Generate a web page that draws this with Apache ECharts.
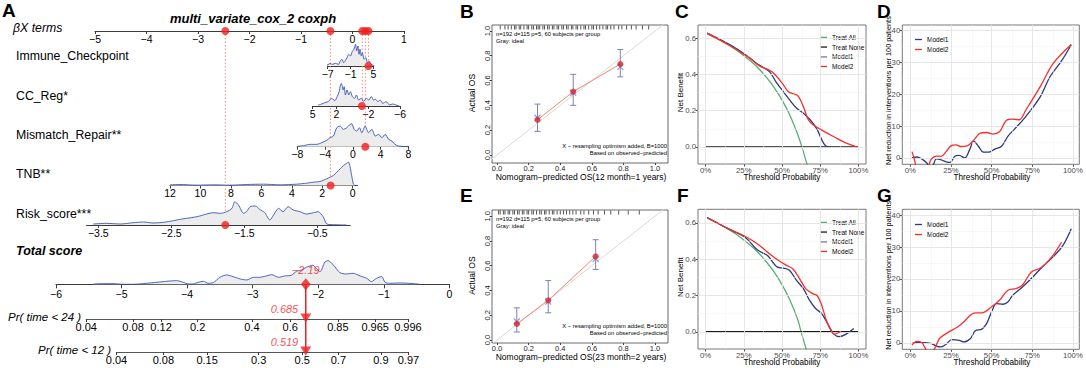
<!DOCTYPE html>
<html>
<head>
<meta charset="utf-8">
<script src="https://cdn.jsdelivr.net/npm/echarts@6/dist/echarts.min.js"></script>
<style>
html, body { margin: 0; padding: 0; background: #fff; }
#main { width: 1086px; height: 368px; }
</style>
</head>
<body>
<div id="main"></div>
<script>
// ---------- A: nomogram ----------
const pointTicks = [-5, -4, -3, -2, -1, 0, 1];
const termNames = ['Immune_Checkpoint', 'CC_Reg*', 'Mismatch_Repair**', 'TNB**', 'Risk_score***'];
const termValues = [3.7, -1.2, 1.8, 1.45, -1.76];
const termPoints = [0.31, 0.19, 0.25, -0.43, -2.47];

const immuneTicks = [-7, -1, 5];
const immuneX = [-7.27, -6.37, -5.66, -5.03, -4.14, -3.69, -3.24, -2.79, -2.34, -1.9, -1.45, -1.0, -0.55, -0.11, 0.34, 0.61, 0.97, 1.24, 1.5, 1.86, 2.13, 2.58, 3.03, 3.47, 3.92, 4.37, 5.27];
const immuneD = [2, 7, 5, 8, 5, 15, 20, 10, 17, 25, 35, 30, 43, 50, 65, 45, 60, 35, 50, 30, 40, 20, 25, 10, 15, 5, 1];

const ccTicks = [5, 2, -2, -6];
const ccX = [4.29, 3.88, 3.46, 3.04, 2.63, 2.21, 1.92, 1.67, 1.5, 1.38, 1.17, 1.04, 0.88, 0.67, 0.46, 0.25, 0, -0.29, -0.5, -0.79, -1.13, -1.42, -1.75, -2.08, -2.38, -2.67, -2.92, -3.21, -3.5, -3.83, -4.25, -4.67, -5.08, -5.5, -5.92];
const ccD = [3, 6, 10, 13, 23, 16, 28, 43, 63, 68, 48, 58, 33, 48, 33, 43, 28, 23, 33, 18, 23, 13, 23, 18, 28, 18, 20, 13, 18, 8, 13, 3, 6, 3, 0];

const mmTicks = [-8, -4, 0, 4, 8];
const mmX = [-7.95, -7.13, -6.17, -5.2, -4.48, -3.76, -3.28, -2.8, -2.31, -1.83, -1.35, -0.87, -0.39, -0.14, 0.19, 0.58, 0.96, 1.3, 1.78, 2.27, 2.75, 3.23, 3.71, 4.19, 4.67, 5.16, 5.64, 6.07, 6.6, 8];
const mmD = [1, 3, 7, 7, 12, 19, 27, 32, 57, 62, 52, 57, 67, 69, 52, 47, 57, 42, 62, 42, 52, 32, 37, 27, 37, 22, 17, 7, 2, 0];

const tnbTicks = [12, 10, 8, 6, 4, 2, 0];
const tnbX = [12, 11.34, 10.25, 9.15, 8.06, 6.96, 5.87, 4.77, 3.68, 3.02, 2.58, 2.15, 1.71, 1.49, 1.27, 1.05, 0.83, 0.61, 0.39, 0.28, 0.18, 0.07, -0.04, -0.15];
const tnbD = [2, 3, 1, 2, 1, 3, 4, 2, 4, 7, 10, 12, 20, 25, 30, 40, 50, 60, 67, 70, 57, 30, 5, 0];

const riskTicks = [-3.5, -2.5, -1.5, -0.5];
const riskX = [-3.57, -3.39, -3.2, -3.02, -2.88, -2.75, -2.61, -2.47, -2.38, -2.29, -2.2, -2.11, -2.02, -1.92, -1.83, -1.74, -1.67, -1.63, -1.58, -1.51, -1.47, -1.42, -1.35, -1.29, -1.22, -1.15, -1.1, -1.03, -0.97, -0.9, -0.83, -0.74, -0.65, -0.55, -0.49, -0.42, -0.37, -0.28, -0.1];
const riskD = [3, 5, 3, 7, 9, 6, 8, 13, 17, 20, 23, 27, 33, 37, 35, 40, 50, 70, 60, 35, 40, 55, 57, 47, 37, 15, 30, 50, 40, 55, 45, 40, 33, 37, 40, 25, 3, 1, 0];

const totalTicks = [-6, -5, -4, -3, -2, -1, 0];
const totalX = [-5.43, -5.28, -5.13, -4.97, -4.82, -4.62, -4.46, -4.31, -4.16, -4.06, -3.98, -3.91, -3.83, -3.75, -3.68, -3.6, -3.5, -3.4, -3.3, -3.19, -3.09, -2.99, -2.89, -2.79, -2.71, -2.61, -2.51, -2.41, -2.33, -2.25, -2.18, -2.08, -2.03, -1.97, -1.9, -1.85, -1.77, -1.67, -1.57, -1.47, -1.36, -1.26, -1.19, -1.11, -1.03, -0.98, -0.91, -0.75, -0.55, -0.45];
const totalD = [1, 2, 2, 0, 0, 3, 6, 9, 11, 6, 1, 1, 6, 9, 3, 5, 21, 28, 23, 16, 13, 21, 21, 25, 29, 21, 25, 27, 39, 43, 51, 57, 47, 38, 66, 71, 58, 35, 31, 33, 25, 18, 8, 18, 23, 6, 3, 4, 2, 0];
const totalScore = -2.19;

const prLabels = ['Pr( time < 24 )', 'Pr( time < 12 )'];
const prValues = [0.685, 0.519];
const pr24Ticks = [0.04, 0.08, 0.12, 0.2, 0.4, 0.6, 0.85, 0.965, 0.996];
const pr12Ticks = [0.04, 0.08, 0.15, 0.3, 0.5, 0.7, 0.9, 0.97];
const prShift = [2.34, 1.878]; // log baseline cumulative hazard

// ---------- B / E: calibration ----------
const calTicks = [0, 0.2, 0.4, 0.6, 0.8, 1.0];
const calPred12 = [0.256, 0.482, 0.78];
const calObs12 = [0.283, 0.51, 0.733];
const calLo12 = [0.19, 0.40, 0.63];
const calHi12 = [0.41, 0.65, 0.85];
const calCorr12 = [0.30, 0.50, 0.71];
const rug12 = [0.02, 0.05, 0.07, 0.09, 0.11, 0.12, 0.14, 0.15, 0.17, 0.19, 0.2, 0.22, 0.23, 0.25, 0.26, 0.27, 0.29, 0.3, 0.32, 0.33, 0.35, 0.36, 0.38, 0.39, 0.41, 0.42, 0.44, 0.45, 0.47, 0.48, 0.5, 0.51, 0.53, 0.55, 0.56, 0.58, 0.6, 0.61, 0.63, 0.65, 0.67, 0.69, 0.7, 0.72, 0.74, 0.77, 0.79, 0.82, 0.85, 0.88, 0.92, 0.96];

const calPred24 = [0.125, 0.324, 0.624];
const calObs24 = [0.13, 0.32, 0.675];
const calLo24 = [0.065, 0.22, 0.57];
const calHi24 = [0.26, 0.48, 0.81];
const calCorr24 = [0.15, 0.31, 0.655];
const rug24 = [0.01, 0.02, 0.04, 0.05, 0.07, 0.08, 0.1, 0.11, 0.13, 0.14, 0.16, 0.17, 0.19, 0.2, 0.22, 0.23, 0.25, 0.27, 0.28, 0.3, 0.31, 0.33, 0.35, 0.36, 0.38, 0.4, 0.42, 0.44, 0.46, 0.48, 0.5, 0.53, 0.55, 0.58, 0.61, 0.64, 0.68, 0.72, 0.77, 0.83, 0.9];

// ---------- C / F: decision curves ----------
const pctTicks = [0, 0.25, 0.5, 0.75, 1];
const pctMinor = [0.125, 0.375, 0.625, 0.875];
const nbTicks = [0, 0.2, 0.4, 0.6];
const nbMinor = [0.1, 0.3, 0.5];
const noneT = [0, 1];
const noneV = [0, 0];

const cAllT = [0.01, 0.1, 0.2, 0.3, 0.35, 0.4, 0.45, 0.5, 0.55, 0.6, 0.63, 0.665];
const cAllV = [0.626, 0.589, 0.537, 0.471, 0.431, 0.383, 0.327, 0.26, 0.178, 0.075, 0.0, -0.1];
const cM1T = [0.01, 0.16, 0.27, 0.33, 0.377, 0.42, 0.465, 0.51, 0.55, 0.596, 0.64, 0.684, 0.728, 0.76, 0.79, 0.82];
const cM1V = [0.63, 0.565, 0.505, 0.465, 0.44, 0.415, 0.354, 0.305, 0.26, 0.214, 0.186, 0.15, 0.1, 0.04, 0.003, 0.0];
const cM2T = [0.01, 0.16, 0.22, 0.29, 0.355, 0.41, 0.443, 0.5, 0.54, 0.575, 0.607, 0.64, 0.673, 0.706, 0.76, 0.84, 0.925, 0.99];
const cM2V = [0.63, 0.56, 0.53, 0.49, 0.447, 0.428, 0.41, 0.354, 0.307, 0.294, 0.28, 0.223, 0.149, 0.121, 0.093, 0.056, 0.019, 0.0];

const fAllT = [0.01, 0.1, 0.2, 0.3, 0.35, 0.4, 0.45, 0.5, 0.55, 0.6, 0.625, 0.66];
const fAllV = [0.626, 0.589, 0.537, 0.471, 0.431, 0.383, 0.327, 0.26, 0.178, 0.075, 0.0, -0.1];
const fM1T = [0.01, 0.15, 0.26, 0.34, 0.405, 0.47, 0.51, 0.55, 0.595, 0.64, 0.68, 0.72, 0.76, 0.81, 0.84, 0.875, 0.92, 0.97];
const fM1V = [0.63, 0.567, 0.52, 0.45, 0.42, 0.356, 0.351, 0.338, 0.283, 0.238, 0.174, 0.128, 0.1, 0.027, -0.013, -0.027, -0.013, 0.018];
const fM2T = [0.01, 0.15, 0.26, 0.34, 0.405, 0.47, 0.53, 0.57, 0.61, 0.655, 0.7, 0.73, 0.76, 0.79, 0.825, 0.846, 0.88];
const fM2V = [0.63, 0.567, 0.525, 0.484, 0.439, 0.397, 0.366, 0.347, 0.3, 0.238, 0.21, 0.2, 0.146, 0.064, 0.0, -0.013, 0.0];

// ---------- D / G: net reduction ----------
const nrTicks = [0, 10, 20, 30, 40];
const nrMinor = [5, 15, 25, 35];
const dM1T = [0.01, 0.04, 0.07, 0.1, 0.12, 0.14, 0.16, 0.19, 0.22, 0.245, 0.275, 0.3, 0.335, 0.365, 0.39, 0.42, 0.45, 0.48, 0.52, 0.56, 0.6, 0.64, 0.71, 0.8, 0.86, 0.93, 0.99];
const dM1V = [0.0, 0.3, -0.3, -1.5, -2.8, -2.2, -0.3, -0.6, -1.2, -1.4, 0.6, 0.8, 0.0, 2.6, 5.3, 3.6, 1.8, 1.8, 2.8, 3.6, 6.8, 9.0, 13.0, 19.3, 25.6, 30.5, 35.6];
const dM2T = [0.01, 0.025, 0.04, 0.08, 0.11, 0.13, 0.16, 0.19, 0.22, 0.25, 0.28, 0.31, 0.35, 0.39, 0.43, 0.47, 0.51, 0.55, 0.59, 0.63, 0.67, 0.71, 0.8, 0.88, 0.99];
const dM2V = [2.0, -0.5, -3, -4, -2.5, -0.3, 0.6, 0.5, 2.0, 3.8, 4.1, 3.6, 3.8, 5.6, 7.8, 8.0, 7.5, 8.3, 11.8, 12.2, 12.0, 15.0, 22.5, 29.8, 35.7];
const gM1T = [0.01, 0.03, 0.08, 0.13, 0.16, 0.19, 0.22, 0.255, 0.3, 0.33, 0.37, 0.4, 0.44, 0.47, 0.5, 0.53, 0.57, 0.6, 0.63, 0.69, 0.755, 0.816, 0.878, 0.94, 0.99];
const gM1V = [-0.2, 0.1, 0.1, -0.2, -1.0, -1.25, -0.4, 1.0, 0.8, 0.3, 1.4, 3.8, 4.3, 6.1, 9.7, 12.3, 12.1, 12.8, 14.9, 17.5, 20.7, 24.0, 26.9, 30.6, 35.7];
const gM2T = [0.01, 0.04, 0.07, 0.09, 0.11, 0.14, 0.155, 0.18, 0.22, 0.29, 0.33, 0.37, 0.4, 0.44, 0.5, 0.55, 0.6, 0.65, 0.69, 0.745, 0.806, 0.87, 0.93];
const gM2V = [-0.7, 0.5, 0.1, -1.5, -3, -2.5, -1.2, 1.4, 2.9, 5.0, 6.6, 8.7, 9.4, 9.4, 11.3, 13.4, 16.5, 17.0, 18.1, 22.2, 23.6, 26.9, 31.5];

// ---------- styles ----------
const FONT = '"Liberation Sans", Arial, sans-serif';
const RED = '#f01e1e';
const DENS_LINE = '#3a55b4';
const DENS_FILL = '#ececec';
const NAVY = '#2d3a7c';
const M2RED = '#f5312a';
const GREEN = '#5aad74';

const zip = (a, b) => a.map((v, i) => [v, b[i]]);
const minus = v => (v < 0 ? '\u2212' + Math.abs(v) : String(v));
const prScore = (p, c) => Math.log(-Math.log(1 - p)) - c;

const grids = [], xAxes = [], yAxes = [], series = [], graphics = [];

function addGrid(box, xa, ya) {
    const i = grids.length;
    grids.push(Object.assign({ show: false }, box));
    xAxes.push(Object.assign({ gridIndex: i, type: 'value', splitLine: { show: false } }, xa));
    yAxes.push(Object.assign({ gridIndex: i, type: 'value', splitLine: { show: false } }, ya));
    return i;
}
const hiddenX = (min, max) => ({ min, max, show: false });
const hiddenY = (min, max, inverse) => ({ min, max, inverse: !!inverse, show: false });

function txt(x, y, s, o = {}) {
    return {
        type: 'text', x, y, rotation: o.rot || 0, z: 100, silent: true,
        style: {
            text: s, fontFamily: FONT, fontSize: o.size || 10,
            fontStyle: o.italic ? 'italic' : 'normal', fontWeight: o.bold ? 'bold' : 'normal',
            fill: o.color || '#000', align: o.align || 'left', verticalAlign: 'middle'
        }
    };
}

function nomoX(min, max, ticks, o = {}) {
    return {
        min, max, inverse: !!o.inverse, position: 'bottom',
        axisLine: { show: true, onZero: false, lineStyle: { color: '#3a3a3a', width: 1.2 } },
        axisTick: { show: true, customValues: ticks, length: 3, lineStyle: { color: '#3a3a3a' } },
        axisLabel: {
            customValues: ticks, fontSize: o.size || 10.5, fontFamily: FONT, color: '#000',
            hideOverlap: false, showMinLabel: true, showMaxLabel: true,
            margin: o.margin == null ? 2 : o.margin, formatter: o.fmt || minus
        }
    };
}

// top points axis
const pointsLeft = 95, pointsRight = 404, pointsY = 31;
const gPts = addGrid({ left: pointsLeft, width: pointsRight - pointsLeft, top: pointsY - 10, height: 10 },
    nomoX(-5, 1, pointTicks), hiddenY(0, 1));
series.push({
    type: 'scatter', name: 'pts', xAxisIndex: gPts, yAxisIndex: gPts, z: 6,
    symbolSize: 8, itemStyle: { color: RED }, clip: false,
    data: termPoints.map(p => [p, 0])
});

// term rows
const rowLayout = [
    { x: immuneX, d: immuneD, ticks: immuneTicks, axisY: 66, peak: 21.7, min: -7, max: 5, left: 327.7, right: 373.3, labelY: 56 },
    { x: ccX, d: ccD, ticks: ccTicks, axisY: 106, peak: 22.7, min: -6, max: 5, left: 312.7, right: 400, inverse: true, labelY: 96 },
    { x: mmX, d: mmD, ticks: mmTicks, axisY: 146.7, peak: 23, min: -8, max: 8, left: 297.3, right: 408.3, labelY: 135 },
    { x: tnbX, d: tnbD, ticks: tnbTicks, axisY: 185.5, peak: 23.3, min: -0.3, max: 12, left: 170, right: 357.3, inverse: true, labelY: 174 },
    { x: riskX, d: riskD, ticks: riskTicks, axisY: 225, peak: 23.3, min: -3.66, max: -0.05, left: 86.6, right: 350.2, labelY: 214 }
];

// dotted connectors from the points axis down to each term
const gLink = addGrid({ left: pointsLeft, width: pointsRight - pointsLeft, top: 0, height: 368 },
    hiddenX(-5, 1), hiddenY(0, 368, true));
termPoints.forEach((p, i) => {
    series.push({
        type: 'line', name: 'link' + i, xAxisIndex: gLink, yAxisIndex: gLink, z: 1,
        symbol: 'none', silent: true,
        lineStyle: { color: '#f58a7c', width: 1, type: [1.5, 2] },
        data: [[p, pointsY], [p, rowLayout[i].axisY]]
    });
});

function densityRow(r, name) {
    const g = addGrid({ left: r.left, width: r.right - r.left, top: r.axisY - r.peak, height: r.peak },
        nomoX(r.min, r.max, r.ticks, { inverse: r.inverse }), hiddenY(0, Math.max(...r.d)));
    series.push({
        type: 'line', name: name, xAxisIndex: g, yAxisIndex: g, z: 2, clip: false,
        symbol: 'none', smooth: 0.25,
        lineStyle: { color: DENS_LINE, width: 0.9 },
        areaStyle: { color: DENS_FILL, opacity: 1 },
        data: zip(r.x, r.d)
    });
    return g;
}

rowLayout.forEach((r, i) => {
    const g = densityRow(r, 'dens' + i);
    series.push({
        type: 'scatter', name: 'val' + i, xAxisIndex: g, yAxisIndex: g, z: 6, clip: false,
        symbolSize: 8, itemStyle: { color: RED }, data: [[termValues[i], 0]]
    });
    graphics.push(txt(16, r.labelY, termNames[i], { size: 12.3 }));
});

// total score
const totalLayout = { axisY: 284.3, peak: 23.7, left: 56, right: 449.3 };
const gTot = addGrid({ left: totalLayout.left, width: totalLayout.right - totalLayout.left, top: totalLayout.axisY - totalLayout.peak, height: totalLayout.peak },
    nomoX(-6, 0, totalTicks, { margin: 4 }), hiddenY(0, Math.max(...totalD)));
xAxes[gTot].axisTick.length = 4;
series.push({
    type: 'line', name: 'densTotal', xAxisIndex: gTot, yAxisIndex: gTot, z: 2, clip: false,
    symbol: 'none', smooth: 0.25,
    lineStyle: { color: DENS_LINE, width: 0.9 },
    areaStyle: { color: DENS_FILL, opacity: 1 },
    data: zip(totalX, totalD)
});
series.push({
    type: 'scatter', name: 'totalMark', xAxisIndex: gTot, yAxisIndex: gTot, z: 7, clip: false,
    symbol: 'diamond', symbolSize: [10, 12], itemStyle: { color: RED },
    label: {
        show: true, position: 'top', distance: 3, color: RED, fontStyle: 'italic',
        fontSize: 11, fontFamily: FONT, formatter: p => minus(p.value[0])
    },
    data: [[totalScore, 0]]
});

// vertical red line from total score down through the probability axes
const pxPerScore = (totalLayout.right - totalLayout.left) / 6;
const prAxisY = [319, 352];
const gDrop = addGrid({ left: totalLayout.left, width: totalLayout.right - totalLayout.left, top: totalLayout.axisY, height: prAxisY[1] - totalLayout.axisY },
    hiddenX(-6, 0), hiddenY(0, 1, true));
series.push({
    type: 'line', name: 'drop', xAxisIndex: gDrop, yAxisIndex: gDrop, z: 5, symbol: 'none', silent: true,
    lineStyle: { color: RED, width: 1.5 }, data: [[totalScore, 0], [totalScore, 1]]
});

// probability axes
[pr24Ticks, pr12Ticks].forEach((ticks, k) => {
    const c = prShift[k];
    const sMin = prScore(ticks[0], c), sMax = prScore(ticks[ticks.length - 1], c);
    const tickScores = ticks.map(p => prScore(p, c));
    const g = addGrid({
        left: totalLayout.left + (sMin + 6) * pxPerScore, width: (sMax - sMin) * pxPerScore,
        top: prAxisY[k] - 10, height: 10
    }, nomoX(sMin, sMax, tickScores, {
        size: 11, margin: 2,
        fmt: v => {
            let best = 0;
            tickScores.forEach((s, i) => { if (Math.abs(s - v) < Math.abs(tickScores[best] - v)) best = i; });
            return String(ticks[best]);
        }
    }), hiddenY(0, 1));
    xAxes[g].axisLine.lineStyle.color = '#555';
    series.push({
        type: 'scatter', name: 'prMark' + k, xAxisIndex: g, yAxisIndex: g, z: 7, clip: false,
        symbol: 'triangle', symbolRotate: 180, symbolSize: [11, 9], symbolOffset: [0, -1],
        itemStyle: { color: RED },
        label: {
            show: true, position: 'left', distance: 2, offset: [0, -9], color: RED,
            fontStyle: 'italic', fontSize: 11, fontFamily: FONT, formatter: () => String(prValues[k])
        },
        data: [[totalScore, 0]]
    });
});

graphics.push(txt(2, 10, 'A', { size: 19, bold: true }));
graphics.push(txt(253, 18, 'multi_variate_cox_2 coxph', { size: 13, bold: true, italic: true, align: 'center' }));
graphics.push(txt(13, 28, '\u03b2X terms', { size: 12.3, italic: true }));
graphics.push(txt(16, 251, 'Total score', { size: 12.5, bold: true, italic: true }));
graphics.push(txt(8, 317, prLabels[0], { size: 11.5, italic: true }));
graphics.push(txt(38, 350, prLabels[1], { size: 11.5, italic: true }));

// ---------- calibration panels ----------
function calPanel(top, height, ymin, ymax, pred, obs, lo, hi, corr, rug, months, years) {
    const g = addGrid({ left: 492, width: 176, top, height, show: true, borderColor: '#444', borderWidth: 0.8 }, {
        min: -0.032, max: 1.082,
        axisLine: { show: false, onZero: false },
        axisTick: { show: true, customValues: calTicks, length: 2, lineStyle: { color: '#444' } },
        axisLabel: { customValues: calTicks, fontSize: 7.5, fontFamily: FONT, color: '#222', margin: 1, formatter: v => v.toFixed(1) }
    }, {
        min: ymin, max: ymax,
        axisLine: { show: false, onZero: false },
        axisTick: { show: true, customValues: calTicks, length: 2, lineStyle: { color: '#444' } },
        axisLabel: { customValues: calTicks, fontSize: 7.5, fontFamily: FONT, color: '#222', margin: 1, rotate: 90, formatter: v => v.toFixed(1) }
    });
    series.push({
        type: 'line', name: 'ideal' + g, xAxisIndex: g, yAxisIndex: g, z: 1, symbol: 'none', silent: true,
        lineStyle: { color: '#dadada', width: 1 }, data: [[-0.05, -0.05], [1.1, 1.1]]
    });
    series.push({
        type: 'custom', name: 'err' + g, xAxisIndex: g, yAxisIndex: g, z: 3,
        encode: { x: 0, y: [1, 2] },
        data: pred.map((x, i) => [x, lo[i], hi[i]]),
        renderItem: (params, api) => {
            const a = api.coord([api.value(0), api.value(1)]);
            const b = api.coord([api.value(0), api.value(2)]);
            const st = { stroke: '#7b82b6', lineWidth: 1 };
            return {
                type: 'group', children: [
                    { type: 'line', shape: { x1: a[0], y1: a[1], x2: b[0], y2: b[1] }, style: st },
                    { type: 'line', shape: { x1: a[0] - 3, y1: a[1], x2: a[0] + 3, y2: a[1] }, style: st },
                    { type: 'line', shape: { x1: b[0] - 3, y1: b[1], x2: b[0] + 3, y2: b[1] }, style: st }
                ]
            };
        }
    });
    series.push({
        type: 'line', name: 'app' + g, xAxisIndex: g, yAxisIndex: g, z: 4, symbol: 'none',
        lineStyle: { color: '#f4846c', width: 1 }, data: zip(pred, obs)
    });
    series.push({
        type: 'scatter', name: 'corr' + g, xAxisIndex: g, yAxisIndex: g, z: 4,
        symbol: 'path://M0,0L10,10M10,0L0,10', symbolSize: 6,
        itemStyle: { color: 'none', borderColor: '#6f86d6', borderWidth: 1.2 },
        data: zip(pred, corr)
    });
    series.push({
        type: 'scatter', name: 'obs' + g, xAxisIndex: g, yAxisIndex: g, z: 5,
        symbolSize: 6, itemStyle: { color: '#d8262b' }, data: zip(pred, obs)
    });
    series.push({
        type: 'scatter', name: 'rug' + g, xAxisIndex: g, yAxisIndex: g, z: 5, clip: false,
        symbol: 'rect', symbolSize: [0.9, 4], symbolOffset: [0, 2.5], itemStyle: { color: '#111' },
        data: rug.map(v => [v, ymax])
    });
    graphics.push(txt(496, top + 8.5, 'n=192 d=115 p=5, 60 subjects per group', { size: 5.8 }));
    graphics.push(txt(496, top + 15.7, 'Gray: ideal', { size: 5.8 }));
    graphics.push(txt(667, top + height - 17.3, 'X \u2212 resampling optimism added, B=1000', { size: 5.8, align: 'right' }));
    graphics.push(txt(667, top + height - 9.7, 'Based on observed\u2212predicted', { size: 5.8, align: 'right' }));
    graphics.push(txt(581, top + height + 14, 'Nomogram\u2212predicted OS(' + months + ' month=' + years + ' years)', { size: 8.5, align: 'center' }));
    graphics.push(txt(472, top + height / 2 - 1, 'Actual OS', { size: 8.5, align: 'center', rot: Math.PI / 2 }));
}
calPanel(25, 138, -0.065, 1.048, calPred12, calObs12, calLo12, calHi12, calCorr12, rug12, 12, 1);
calPanel(210, 133, -0.024, 1.05, calPred24, calObs24, calLo24, calHi24, calCorr24, rug24, 23, 2);
graphics.push(txt(460, 11.5, 'B', { size: 19, bold: true }));
graphics.push(txt(460, 195, 'E', { size: 19, bold: true }));

// ---------- ggplot-style panels ----------
function ggGrid(box, xr, yr, yTicks, yMinor, yFmt) {
    const g = addGrid(Object.assign({ show: true, borderColor: '#555', borderWidth: 0.8 }, box), {
        min: xr[0], max: xr[1],
        axisLine: { show: false, onZero: false },
        axisTick: { show: true, customValues: pctTicks, length: 2.5, lineStyle: { color: '#555' } },
        axisLabel: { customValues: pctTicks, fontSize: 7.8, fontFamily: FONT, color: '#4d4d4d', margin: 2, formatter: v => Math.round(v * 100) + '%' }
    }, {
        min: yr[0], max: yr[1],
        axisLine: { show: false, onZero: false },
        axisTick: { show: true, customValues: yTicks, length: 2.5, lineStyle: { color: '#555' } },
        axisLabel: { customValues: yTicks, fontSize: 7.8, fontFamily: FONT, color: '#4d4d4d', margin: 2, formatter: yFmt }
    });
    const major = { color: '#e4e4e4', width: 0.9, type: 'solid' };
    const minor = { color: '#f1f1f1', width: 0.5, type: 'solid' };
    series.push({
        type: 'line', name: 'gl' + g, xAxisIndex: g, yAxisIndex: g, z: 0, silent: true,
        symbol: 'none', lineStyle: { opacity: 0 }, data: [[0, 0]],
        markLine: {
            silent: true, symbol: ['none', 'none'], label: { show: false }, animation: false,
            data: [].concat(
                pctMinor.map(v => ({ xAxis: v, lineStyle: minor })),
                yMinor.map(v => ({ yAxis: v, lineStyle: minor })),
                pctTicks.map(v => ({ xAxis: v, lineStyle: major })),
                yTicks.map(v => ({ yAxis: v, lineStyle: major }))
            )
        }
    });
    return g;
}
function curve(g, name, color, t, v, z) {
    series.push({
        type: 'line', name, xAxisIndex: g, yAxisIndex: g, z: z || 3, symbol: 'none', smooth: 0.35,
        itemStyle: { color }, lineStyle: { color, width: 1.3 }, data: zip(t, v)
    });
}
const nbFmt = v => v.toFixed(1);
const legendText = { fontSize: 6.5, fontFamily: FONT, color: '#000' };

function dcaPanel(top, height, allT, allV, m1T, m1V, m2T, m2V, legendTop) {
    const g = ggGrid({ left: 698, width: 168, top, height }, [-0.05, 1.05], [-0.095, 0.675], nbTicks, nbMinor, nbFmt);
    curve(g, 'Treat All', GREEN, allT, allV);
    curve(g, 'Treat None', '#1a1a1a', noneT, noneV);
    curve(g, 'Model1', NAVY, m1T, m1V, 4);
    curve(g, 'Model2', M2RED, m2T, m2V, 5);
    graphics.push(txt(782, top + height + 13.5, 'Threshold Probability', { size: 8.2, align: 'center' }));
    graphics.push(txt(680.5, top + height / 2 - 2, 'Net Benefit', { size: 8, align: 'center', rot: Math.PI / 2 }));
    return {
        left: 815, top: legendTop, orient: 'vertical', selectedMode: false,
        data: ['Treat All', 'Treat None', 'Model1', 'Model2'],
        icon: 'rect', itemWidth: 7, itemHeight: 1.3, itemGap: 0,
        inactiveColor: '#000',
        textStyle: Object.assign({ lineHeight: 9.7 }, legendText)
    };
}
const legends = [];
legends.push(dcaPanel(25, 139, cAllT, cAllV, cM1T, cM1V, cM2T, cM2V, 27.5));
legends.push(dcaPanel(209.3, 139.7, fAllT, fAllV, fM1T, fM1V, fM2T, fM2V, 212.5));
graphics.push(txt(675, 11.5, 'C', { size: 19, bold: true }));
graphics.push(txt(677, 195, 'F', { size: 19, bold: true }));

function nrPanel(top, height, m1T, m1V, m2T, m2V, legendTop) {
    const g = ggGrid({ left: 902.3, width: 177, top, height }, [-0.0495, 1.0395], [-2, 41.8], nrTicks, nrMinor, v => String(v));
    curve(g, 'Model1', NAVY, m1T, m1V, 4);
    curve(g, 'Model2', M2RED, m2T, m2V, 5);
    graphics.push(txt(992, top + height + 13.5, 'Threshold Probability', { size: 8.2, align: 'center' }));
    graphics.push(txt(888, top + height / 2 - 4, 'Net reduction in interventions per 100 patients', { size: 7.3, align: 'center', rot: Math.PI / 2 }));
    return {
        left: 910, top: legendTop, orient: 'vertical', selectedMode: false,
        data: ['Model1', 'Model2'],
        icon: 'rect', itemWidth: 7, itemHeight: 1.3, itemGap: 0,
        textStyle: Object.assign({ lineHeight: 10 }, legendText)
    };
}
legends.push(nrPanel(25, 139.3, dM1T, dM1V, dM2T, dM2V, 29.5));
legends.push(nrPanel(209.3, 140, gM1T, gM1V, gM2T, gM2V, 214.5));
graphics.push(txt(877, 11.5, 'D', { size: 19, bold: true }));
graphics.push(txt(877, 195, 'G', { size: 19, bold: true }));

const chart = echarts.init(document.getElementById('main'), null, { renderer: 'svg' });
chart.setOption({
    animation: false,
    backgroundColor: '#fff',
    textStyle: { fontFamily: FONT },
    grid: grids,
    xAxis: xAxes,
    yAxis: yAxes,
    legend: legends,
    series: series,
    graphic: graphics
});
</script>
</body>
</html>
